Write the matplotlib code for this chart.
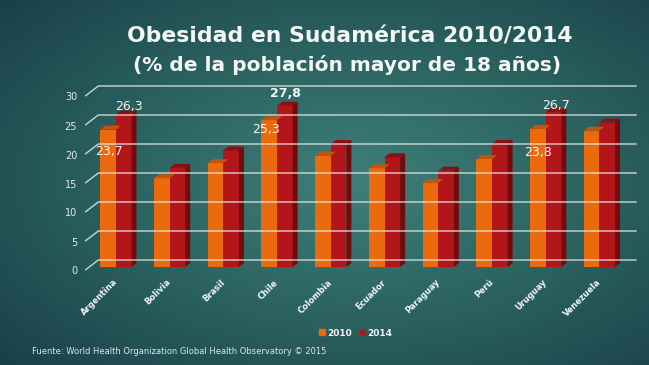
import matplotlib.pyplot as plt
import matplotlib.transforms as mtransforms
from matplotlib.colors import LinearSegmentedColormap
from matplotlib.lines import Line2D
import numpy as np

countries = ['Argentina', 'Bolivia', 'Brasil', 'Chile', 'Colombia',
             'Ecuador', 'Paraguay', 'Perú', 'Uruguay', 'Venezuela']
obesity_2010 = [23.7, 15.3, 17.9, 25.3, 19.2, 17.0, 14.5, 18.6, 23.8, 23.5]
obesity_2014 = [26.3, 17.1, 20.1, 27.8, 21.2, 18.9, 16.6, 21.2, 26.7, 24.9]
yticks = [0, 5, 10, 15, 20, 25, 30]

# which bars get a value label, and where the label sits (offset in points)
labels_2010 = {'Argentina': (0.7, -16), 'Chile': (-2, -7), 'Uruguay': (0, -17)}
labels_2014 = {'Argentina': (4, 6), 'Chile': (0.7, 8.6), 'Uruguay': (2, 5)}

c_orange, c_orange_top = '#ec6a0e', '#c4540b'
c_red, c_red_top, c_red_side = '#b3161a', '#8c0f11', '#730a0c'
c_text = '#f2f6f6'

W, H = 649, 365
fig = plt.figure(figsize=(W / 100, H / 100), dpi=100)

# background: teal radial gradient
bg = fig.add_axes([0, 0, 1, 1], zorder=-10)
yy, xx = np.mgrid[0:1:200j, 0:1:300j]
d = np.sqrt(((xx - 0.55) / 0.75) ** 2 + ((yy - 0.5) / 0.75) ** 2)
cmap = LinearSegmentedColormap.from_list('bg', ['#3e7f7a', '#2b625f', '#1a4049'])
bg.imshow(np.clip(d, 0, 1), cmap=cmap, aspect='auto', extent=[0, 1, 0, 1])
bg.axis('off')

# plot area (front plane)
ax_l, ax_r, y0_px, px_per_unit = 89, 636, 267, 5.8
ymax = 31.5
ax = fig.add_axes([ax_l / W, (H - y0_px) / H, (ax_r - ax_l) / W, ymax * px_per_unit / H])
ax.set_facecolor('none')
x = np.arange(len(countries))
ax.set_xlim(-0.5, 9.68)
ax.set_ylim(0, ymax)
for s in ax.spines.values():
    s.set_visible(False)

bw = 0.29
dx = 5 / ((ax_r - ax_l) / (9.68 + 0.5))
dy = 4 / px_per_unit

b1 = ax.bar(x - bw / 2, obesity_2010, width=bw, color=c_orange, zorder=3)
b2 = ax.bar(x + bw / 2, obesity_2014, width=bw, color=c_red, zorder=3)
for bars, top_c in [(b1, c_orange_top), (b2, c_red_top)]:
    for r in bars:
        x0, w, h = r.get_x(), r.get_width(), r.get_height()
        ax.add_patch(plt.Polygon([(x0, h), (x0 + w, h), (x0 + w + dx, h + dy), (x0 + dx, h + dy)],
                                 color=top_c, zorder=3, lw=0))
for r in b2:
    x0, w, h = r.get_x(), r.get_width(), r.get_height()
    ax.add_patch(plt.Polygon([(x0 + w, 0), (x0 + w, h), (x0 + w + dx, h + dy), (x0 + w + dx, dy)],
                             color=c_red_side, zorder=3, lw=0))

# gridlines on the back wall with a diagonal lead-in from the labels
ytr = ax.get_yaxis_transform()
for v in yticks:
    (ax0, vy), = ytr.transform([(0, v)])
    px_a = ax0 - 3.3
    px_b = ax0 + 9.3
    pts = np.array([[px_a, vy - 2.7], [px_b, vy + 7], [ax_r, vy + 7]])
    fig.add_artist(Line2D(pts[:, 0], pts[:, 1], transform=mtransforms.IdentityTransform(),
                          color='#e6eeee', lw=1, alpha=0.85, zorder=1))

ax.set_yticks(yticks)
ax.set_yticklabels([str(v) for v in yticks], color='#e3ebeb', fontsize=7)
ax.tick_params(axis='y', length=0, pad=8.5)
shift = mtransforms.ScaledTranslation(0, -3.5 / 100, fig.dpi_scale_trans)
for t in ax.get_yticklabels():
    t.set_transform(t.get_transform() + shift)

ax.set_xticks(x)
ax.set_xticklabels(countries, rotation=45, ha='right', va='center', rotation_mode='anchor',
                   color=c_text, fontsize=6, fontweight='bold')
ax.tick_params(axis='x', length=0, pad=10)

for i, c in enumerate(countries):
    if c in labels_2010:
        ax.annotate(f'{obesity_2010[i]:.1f}'.replace('.', ','), (x[i] - bw / 2, obesity_2010[i]),
                    xytext=labels_2010[c], textcoords='offset points', ha='center', va='center',
                    color=c_text, fontsize=9, zorder=5)
    if c in labels_2014:
        bold = 'bold' if c == 'Chile' else 'normal'
        ax.annotate(f'{obesity_2014[i]:.1f}'.replace('.', ','), (x[i] + bw / 2, obesity_2014[i]),
                    xytext=labels_2014[c], textcoords='offset points', ha='center', va='center',
                    color=c_text, fontsize=9, fontweight=bold, zorder=5)

# titles, fitted to the width of the reference
renderer = fig.canvas.get_renderer()
title = fig.text(350 / W, (H - 42) / H, 'Obesidad en Sudamérica 2010/2014', ha='center',
                 va='baseline', color=c_text, fontsize=17, fontweight='bold')
sub = fig.text(347 / W, (H - 71) / H, '(% de la población mayor de 18 años)', ha='center',
               va='baseline', color=c_text, fontsize=14, fontweight='bold')
for t, target in [(title, 445), (sub, 427)]:
    wpx = t.get_window_extent(renderer).width
    t.set_fontsize(t.get_fontsize() * target / wpx)

handles = [Line2D([], [], ls='', marker='s', ms=4, color=c_orange),
           Line2D([], [], ls='', marker='s', ms=3.5, color=c_red)]
leg = fig.legend(handles, ['2010', '2014'], loc='center', bbox_to_anchor=(356 / W, (H - 333) / H),
                 ncol=2, frameon=False, fontsize=6.5, handlelength=0.6, handletextpad=0.3,
                 columnspacing=0.8)
for t in leg.get_texts():
    t.set_color(c_text)
    t.set_fontweight('bold')

fig.text(32 / W, (H - 352) / H, 'Fuente: World Health Organization Global Health Observatory © 2015',
         ha='left', va='center', color='#dce6e6', fontsize=6)

fig.savefig('out.png', dpi=100)
